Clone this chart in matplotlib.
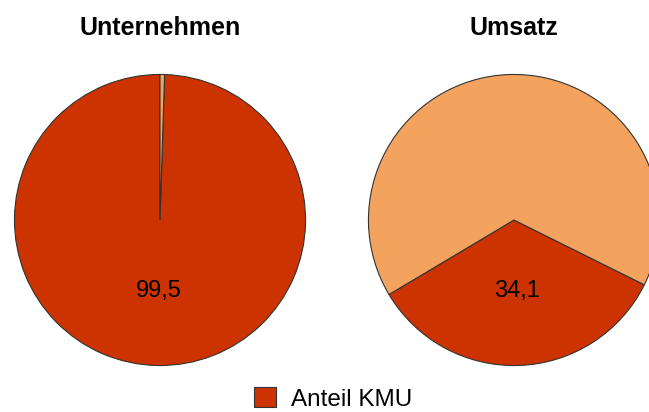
import numpy as np
import matplotlib
matplotlib.use("Agg")
import matplotlib.pyplot as plt
from matplotlib.patches import Patch

plt.rcParams["font.family"] = ["Liberation Sans", "DejaVu Sans"]

# Anteil KMU in Prozent
titles = ["Unternehmen", "Umsatz"]
kmu_share = [99.5, 34.1]
start_angles = [90, 210.8]
colors = ["#CC3300", "#F3A35E"]
legend_label = "Anteil KMU"

fig = plt.figure(figsize=(6.49, 4.12), dpi=100)

# pie centres in pixels (x), both at the same height
centres_x = [160, 514]
cy = 220
r = 147
W, H = 649, 412

for title, share, start, cx in zip(titles, kmu_share, start_angles, centres_x):
    ax = fig.add_axes([(cx - r) / W, (H - cy - r) / H, 2 * r / W, 2 * r / H])
    rest = 100 - share
    wedges, _ = ax.pie([share, rest], colors=colors, startangle=start,
                       wedgeprops=dict(edgecolor="#333333", linewidth=0.8))
    w = wedges[0]
    mid = np.deg2rad((w.theta1 + w.theta2) / 2)
    ax.text(0.49 * np.cos(mid), 0.49 * np.sin(mid),
            f"{share:.1f}".replace(".", ","),
            ha="center", va="center", fontsize=17)
    ax.set_xlim(-1.01, 1.01)
    ax.set_ylim(-1.01, 1.01)
    ax.axis("off")
    fig.text(cx / W, 1 - 28 / H, title, ha="center", va="center",
             fontsize=18, fontweight="bold")

handle = Patch(facecolor=colors[0], edgecolor="#333333", linewidth=0.8)
fig.legend([handle], [legend_label], loc="center",
           bbox_to_anchor=(333 / W, 1 - 399 / H), frameon=False,
           fontsize=17.5, handlelength=0.9, handleheight=0.9,
           handletextpad=0.6)

fig.savefig("out.png", dpi=100)
